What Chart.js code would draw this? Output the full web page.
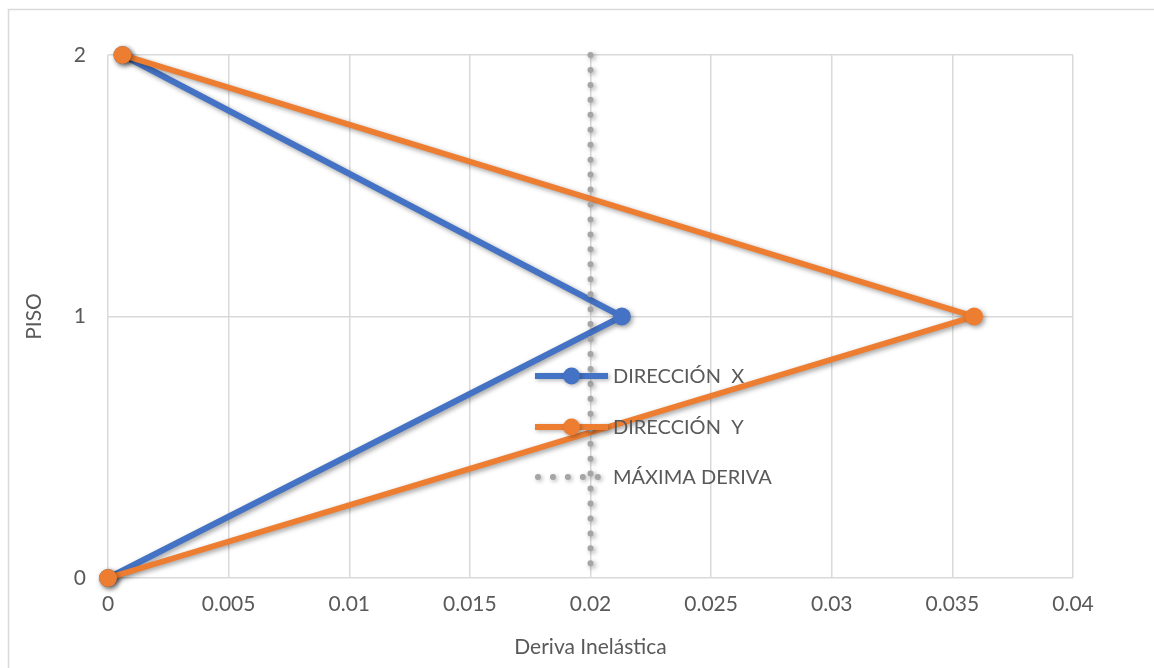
<!DOCTYPE html>
<html>
<head>
<meta charset="utf-8">
<script src="https://cdn.jsdelivr.net/npm/chart.js@4/dist/chart.umd.min.js"></script>
<style>
  html, body { margin: 0; padding: 0; background: #ffffff; }
  #wrap { width: 1154px; height: 668px; position: relative; }
</style>
</head>
<body>
<div id="wrap"><canvas id="chart" width="1154" height="668"></canvas></div>
<script>
// Story levels (PISO) and inelastic drift per direction
const pisos = [0, 1, 2];
const derivaX = [0, 0.0213, 0.0006];
const derivaY = [0, 0.0359, 0.0006];
// Allowed maximum drift, drawn as a vertical limit line
const derivaMaxima = 0.02;
const limitePisos = [2, 0];

const seriesNames = ['DIRECCIÓN  X', 'DIRECCIÓN  Y', 'MÁXIMA DERIVA'];
const xTicks = [0, 0.005, 0.01, 0.015, 0.02, 0.025, 0.03, 0.035, 0.04];
const yTicks = [0, 1, 2];

const FONT = 'Lato, "Open Sans", sans-serif';
const FONT_SIZE = 21;
const TEXT = '#595959';
const GRID = '#D9D9D9';

const toPoints = (xs, ys) => xs.map((x, i) => ({ x: x, y: ys[i] }));

// Soft drop shadow under each series
const shadowPlugin = {
  id: 'seriesShadow',
  beforeDatasetDraw(chart) {
    const ctx = chart.ctx;
    ctx.save();
    ctx.shadowColor = 'rgba(0,0,0,0.38)';
    ctx.shadowBlur = 5;
    ctx.shadowOffsetX = 2;
    ctx.shadowOffsetY = 2;
  },
  afterDatasetDraw(chart) {
    chart.ctx.restore();
  }
};

// Outer frame of the chart
const framePlugin = {
  id: 'frame',
  beforeDraw(chart) {
    const ctx = chart.ctx;
    ctx.save();
    ctx.fillStyle = '#ffffff';
    ctx.fillRect(0, 0, chart.width, chart.height);
    ctx.strokeStyle = GRID;
    ctx.lineWidth = 1.5;
    ctx.strokeRect(8.5, 9.5, chart.width + 20, chart.height + 20);
    ctx.restore();
  }
};

// Legend placed inside the plot area
const innerLegend = {
  id: 'innerLegend',
  afterDatasetsDraw(chart) {
    const ctx = chart.ctx;
    const x0 = 535, len = 73, textX = 613;
    const rows = [376, 427, 477];
    ctx.save();
    chart.data.datasets.forEach((ds, i) => {
      const y = rows[i];
      ctx.save();
      ctx.shadowColor = 'rgba(0,0,0,0.3)';
      ctx.shadowBlur = 4;
      ctx.shadowOffsetX = 1.5;
      ctx.shadowOffsetY = 1.5;
      ctx.strokeStyle = ds.borderColor;
      ctx.lineWidth = ds.borderWidth;
      ctx.lineCap = ds.borderCapStyle || 'butt';
      ctx.setLineDash(ds.borderDash || []);
      const start = ds.borderDash ? x0 + 3 : x0;
      ctx.beginPath();
      ctx.moveTo(start, y);
      ctx.lineTo(x0 + len, y);
      ctx.stroke();
      if (ds.pointRadius > 0) {
        ctx.setLineDash([]);
        ctx.fillStyle = ds.pointBackgroundColor;
        ctx.beginPath();
        ctx.arc(x0 + len / 2, y, ds.pointRadius - 0.5, 0, Math.PI * 2);
        ctx.fill();
      }
      ctx.restore();
      ctx.fillStyle = TEXT;
      ctx.font = '20px ' + FONT;
      ctx.textBaseline = 'middle';
      ctx.textAlign = 'left';
      ctx.fillText(ds.label, textX, y + 1);
    });
    ctx.restore();
  }
};

new Chart(document.getElementById('chart'), {
  type: 'line',
  data: {
    datasets: [
      {
        label: seriesNames[0],
        data: toPoints(derivaX, pisos),
        borderColor: '#4472C4',
        backgroundColor: '#4472C4',
        pointBackgroundColor: '#4472C4',
        pointBorderColor: '#4472C4',
        pointBorderWidth: 0,
        borderWidth: 6,
        pointRadius: 9,
        borderJoinStyle: 'round',
        clip: false,
        order: 3
      },
      {
        label: seriesNames[1],
        data: toPoints(derivaY, pisos),
        borderColor: '#ED7D31',
        backgroundColor: '#ED7D31',
        pointBackgroundColor: '#ED7D31',
        pointBorderColor: '#ED7D31',
        pointBorderWidth: 0,
        borderWidth: 6,
        pointRadius: 9,
        borderJoinStyle: 'round',
        clip: false,
        order: 2
      },
      {
        label: seriesNames[2],
        data: limitePisos.map(p => ({ x: derivaMaxima, y: p })),
        borderColor: '#A5A5A5',
        backgroundColor: '#A5A5A5',
        pointBackgroundColor: '#A5A5A5',
        borderWidth: 6,
        borderDash: [0, 14.95],
        borderCapStyle: 'round',
        pointRadius: 0,
        clip: false,
        order: 1
      }
    ]
  },
  options: {
    responsive: false,
    animation: false,
    devicePixelRatio: 1,
    layout: { padding: { left: 0, right: 81, top: 55, bottom: 0 } },
    plugins: {
      legend: { display: false },
      tooltip: { enabled: false }
    },
    elements: { line: { tension: 0 } },
    scales: {
      x: {
        type: 'linear',
        min: 0,
        max: 0.04,
        afterBuildTicks(scale) { scale.ticks = xTicks.map(v => ({ value: v })); },
        afterFit(scale) { scale.height = 90; },
        grid: { color: GRID, lineWidth: 1.5, drawTicks: false },
        border: { display: false },
        ticks: {
          color: TEXT,
          font: { family: FONT, size: FONT_SIZE },
          padding: 14,
          maxRotation: 0,
          callback: v => String(v)
        },
        title: {
          display: true,
          text: 'Deriva Inelástica',
          color: TEXT,
          font: { family: FONT, size: FONT_SIZE },
          padding: { top: 0, bottom: 8 }
        }
      },
      y: {
        type: 'linear',
        min: 0,
        max: 2,
        afterBuildTicks(scale) { scale.ticks = yTicks.map(v => ({ value: v })); },
        afterFit(scale) { scale.width = 108; },
        grid: { color: GRID, lineWidth: 1.5, drawTicks: false },
        border: { display: false },
        ticks: {
          color: TEXT,
          font: { family: FONT, size: FONT_SIZE },
          padding: 22,
          callback: v => String(v)
        },
        title: {
          display: true,
          text: 'PISO',
          color: TEXT,
          font: { family: FONT, size: FONT_SIZE },
          padding: { top: 22, bottom: 0 }
        }
      }
    }
  },
  plugins: [framePlugin, shadowPlugin, innerLegend]
});
</script>
</body>
</html>
